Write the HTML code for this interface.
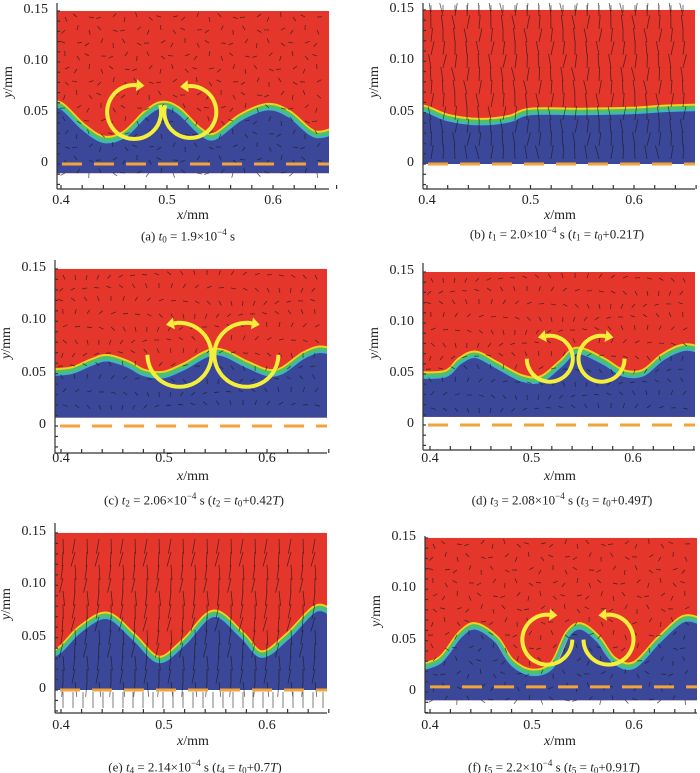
<!DOCTYPE html>
<html><head><meta charset="utf-8">
<style>
html,body{margin:0;padding:0;background:#fff;}
#wrap{position:relative;width:700px;height:773px;overflow:hidden;font-family:"Liberation Serif",serif;}
.lbl{position:absolute;white-space:nowrap;color:#222;}
.cap{font-size:13px;transform:translateX(-50%);}
.tk{font-size:14px;}
sub{font-size:9px;vertical-align:-2px;}
sup{font-size:9px;}
</style></head>
<body>
<div id="wrap">
<svg id="svg" width="700" height="773" xmlns="http://www.w3.org/2000/svg"></svg>
<div id="labels"></div>
</div>
<script>
// Interface profiles (x in mm, y in mm)
const ifaceXa=[0.385,0.40,0.42,0.44,0.46,0.48,0.495,0.51,0.53,0.545,0.57,0.595,0.615,0.64,0.665];
const ifaceYa=[0.058,0.056,0.036,0.023,0.028,0.048,0.057,0.052,0.032,0.026,0.045,0.055,0.048,0.028,0.035];
const ifaceXb=[0.385,0.40,0.42,0.45,0.48,0.50,0.55,0.60,0.63,0.665];
const ifaceYb=[0.055,0.052,0.044,0.040,0.043,0.050,0.050,0.051,0.053,0.054];
const ifaceXc=[0.385,0.41,0.43,0.445,0.465,0.48,0.50,0.52,0.55,0.58,0.60,0.615,0.635,0.65,0.665];
const ifaceYc=[0.050,0.052,0.060,0.064,0.058,0.050,0.048,0.056,0.070,0.058,0.050,0.052,0.066,0.072,0.070];
const ifaceXd=[0.385,0.415,0.43,0.445,0.465,0.49,0.51,0.53,0.545,0.57,0.59,0.61,0.63,0.65,0.665];
const ifaceYd=[0.048,0.049,0.062,0.068,0.058,0.045,0.044,0.060,0.072,0.062,0.050,0.050,0.066,0.075,0.073];
const ifaceXe=[0.385,0.40,0.42,0.445,0.47,0.495,0.52,0.548,0.575,0.595,0.62,0.648,0.665];
const ifaceYe=[0.030,0.038,0.058,0.070,0.050,0.028,0.045,0.072,0.052,0.033,0.050,0.077,0.070];
const ifaceXf=[0.385,0.41,0.43,0.445,0.465,0.48,0.50,0.52,0.535,0.548,0.565,0.58,0.60,0.625,0.648,0.665];
const ifaceYf=[0.022,0.030,0.055,0.063,0.050,0.028,0.018,0.025,0.055,0.063,0.050,0.030,0.025,0.050,0.070,0.068];
// vortex centres (mm), radius px, start/end angle deg
const vortexX=[[0.469,0.522],[],[0.515,0.58],[0.518,0.569],[],[0.515,0.575]];
const vortexY=[[0.051,0.051],[],[0.068,0.068],[0.065,0.065],[],[0.051,0.051]];
const vortexR=[[27,26],[],[32,32],[23,23],[],[25,25]];
const vortexA0=[[-15,195],[],[180,0],[180,0],[],[0,180]];
const vortexA1=[[275,-95],[],[-100,280],[-100,280],[],[275,-95]];
const xTicks=[0.4,0.5,0.6];
const xTickLabels=["0.4","0.5","0.6"];
const yTicks=[0,0.05,0.10,0.15];
const yTickLabels=["0","0.05","0.10","0.15"];

const ifaceX=[ifaceXa,ifaceXb,ifaceXc,ifaceXd,ifaceXe,ifaceXf];
const ifaceY=[ifaceYa,ifaceYb,ifaceYc,ifaceYd,ifaceYe,ifaceYf];

const P=[
 {id:'a',fx0:57,fx1:329,fy0:3,fy1:189,x04:61,xs:1060,y0:164,ys:1020,bot:-0.009,dash:0,mode:'s',xl:193,xly:208,tky:193,cap:188,capy:227,capH:'(a) <i>t</i><sub>0</sub> = 1.9×10<sup>−4</sup> s'},
 {id:'b',fx0:423,fx1:695,fy0:3,fy1:189,x04:427,xs:1035,y0:164,ys:1027,bot:0,dash:0,mode:'up',xl:560,xly:208,tky:193,cap:557,capy:225,capH:'(b) <i>t</i><sub>1</sub> = 2.0×10<sup>−4</sup> s (<i>t</i><sub>1</sub> = <i>t</i><sub>0</sub>+0.21<i>T</i>)'},
 {id:'c',fx0:55,fx1:327,fy0:260,fy1:453,x04:61,xs:1030,y0:426,ys:1047,bot:0.008,dash:0,mode:'s',xl:193,xly:469,tky:451,cap:194,capy:491,capH:'(c) <i>t</i><sub>2</sub> = 2.06×10<sup>−4</sup> s (<i>t</i><sub>2</sub> = <i>t</i><sub>0</sub>+0.42<i>T</i>)'},
 {id:'d',fx0:423,fx1:695,fy0:263,fy1:450,x04:430,xs:1015,y0:425,ys:1020,bot:0.008,dash:0,mode:'s',xl:560,xly:469,tky:451,cap:562,capy:491,capH:'(d) <i>t</i><sub>3</sub> = 2.08×10<sup>−4</sup> s (<i>t</i><sub>3</sub> = <i>t</i><sub>0</sub>+0.49<i>T</i>)'},
 {id:'e',fx0:55,fx1:327,fy0:523,fy1:713,x04:61,xs:1030,y0:690,ys:1047,bot:0,dash:0,mode:'down',xl:193,xly:734,tky:718,cap:195,capy:758,capH:'(e) <i>t</i><sub>4</sub> = 2.14×10<sup>−4</sup> s (<i>t</i><sub>4</sub> = <i>t</i><sub>0</sub>+0.7<i>T</i>)'},
 {id:'f',fx0:425,fx1:697,fy0:536,fy1:713,x04:430,xs:1020,y0:692,ys:1027,bot:-0.008,dash:0.005,mode:'s',xl:560,xly:734,tky:718,cap:554,capy:758,capH:'(f) <i>t</i><sub>5</sub> = 2.2×10<sup>−4</sup> s (<i>t</i><sub>5</sub> = <i>t</i><sub>0</sub>+0.91<i>T</i>)'}
];
const NS='http://www.w3.org/2000/svg';
const svg=document.getElementById('svg');
const labels=document.getElementById('labels');
function mk(tag,attrs,parent){const e=document.createElementNS(NS,tag);for(const k in attrs)e.setAttribute(k,attrs[k]);(parent||svg).appendChild(e);return e;}
function smooth(pts){let d='M'+pts[0][0]+','+pts[0][1];for(let i=0;i<pts.length-1;i++){const p0=pts[i-1]||pts[i],p1=pts[i],p2=pts[i+1],p3=pts[i+2]||p2;
 const c1=[p1[0]+(p2[0]-p0[0])/6,p1[1]+(p2[1]-p0[1])/6],c2=[p2[0]-(p3[0]-p1[0])/6,p2[1]-(p3[1]-p1[1])/6];
 d+=' C'+c1[0].toFixed(1)+','+c1[1].toFixed(1)+' '+c2[0].toFixed(1)+','+c2[1].toFixed(1)+' '+p2[0].toFixed(1)+','+p2[1].toFixed(1);}return d;}
function lbl(html,x,y,cls,name){const d=document.createElement('div');d.className='lbl '+cls;d.innerHTML=html;d.style.left=x+'px';d.style.top=y+'px';
 
 
 labels.appendChild(d);return d;}

P.forEach((p,pi)=>{
 const sx=v=>p.x04+(v-0.4)*p.xs, sy=v=>p.y0-v*p.ys;
 const g=mk('g',{});
 
 
 const cid='clip'+p.id;
 const cp=mk('clipPath',{id:cid},g);mk('rect',{x:p.fx0,y:p.fy0,width:p.fx1-p.fx0,height:p.fy1-p.fy0},cp);
 const inner=mk('g',{'clip-path':'url(#'+cid+')'},g);
 const red=mk('rect',{x:p.fx0,y:sy(0.15),width:p.fx1-p.fx0,height:sy(p.bot)-sy(0.15),fill:'#e5362c'},inner);
 
 const pts=ifaceX[pi].map((x,i)=>[sx(x),sy(ifaceY[pi][i])]);
 const dcurve=smooth(pts);
 const blue=mk('path',{d:dcurve+' L'+pts[pts.length-1][0]+','+sy(p.bot)+' L'+pts[0][0]+','+sy(p.bot)+' Z',fill:'#3b4799'},inner);
 
 mk('path',{d:dcurve,fill:'none',stroke:'#f2d21c',"stroke-width":6,transform:'translate(0,-2)'},inner);
 mk('path',{d:dcurve,fill:'none',stroke:'#4fc06a',"stroke-width":4,transform:'translate(0,-1)'},inner);
 const il=mk('path',{d:dcurve,fill:'none',stroke:'#3fb3c8',"stroke-width":2,transform:'translate(0,1.5)'},inner);
 
 // velocity arrows (texture)
 const qg=mk('g',{stroke:'#1a1a1a','stroke-width':0.8,opacity:0.7},inner);
 
 let k=0;
 for(let x=p.fx0+8;x<p.fx1;x+=12){for(let y=sy(0.15)+6;y<sy(p.bot);y+=13){k++;
  let ang,len;
  if(p.mode==='up'){ang=-90+((k*37)%30-15);len=14;}
  else if(p.mode==='down'){ang=95+((k*29)%24-12);len=15;}
  else{ang=(k*67)%360;len=5;}
  const r=ang*Math.PI/180;mk('line',{x1:x,y1:y,x2:(x+len*Math.cos(r)).toFixed(1),y2:(y+len*Math.sin(r)).toFixed(1)},qg);}}
 if(p.mode==='up'){for(let x=p.fx0+8;x<p.fx1;x+=12){mk('line',{x1:x,y1:sy(0.15)+2,x2:x,y2:p.fy0+2},qg);}}
 if(p.mode==='down'){for(let x=p.fx0+8;x<p.fx1;x+=10){mk('line',{x1:x,y1:sy(0)+2,x2:x,y2:p.fy1-5},qg);}}
 // dashed reference line
 const dl=mk('line',{x1:p.fx0+5,x2:p.fx1,y1:sy(p.dash),y2:sy(p.dash),stroke:'#f2a33a','stroke-width':3,'stroke-dasharray':'20 12'},inner);
 
 // vortices
 vortexX[pi].forEach((vx,j)=>{
  const cx=sx(vx),cy=sy(vortexY[pi][j]),R=vortexR[pi][j],a0=vortexA0[pi][j],a1=vortexA1[pi][j];
  let d='';const n=40;
  for(let i=0;i<=n;i++){const a=(a0+(a1-a0)*i/n)*Math.PI/180;d+=(i?' L':'M')+(cx+R*Math.cos(a)).toFixed(1)+','+(cy+R*Math.sin(a)).toFixed(1);}
  const vg=mk('g',{},inner);
  
  mk('path',{d:d,fill:'none',stroke:'#f4ef3a','stroke-width':4},vg);
  const ae=a1*Math.PI/180,ex=cx+R*Math.cos(ae),ey=cy+R*Math.sin(ae);
  const s=Math.sign(a1-a0);const tx=-Math.sin(ae)*s,ty=Math.cos(ae)*s;
  const nx=-ty,ny=tx;
  mk('polygon',{points:[[ex+tx*8,ey+ty*8],[ex+nx*6,ey+ny*6],[ex-nx*6,ey-ny*6]].map(q=>q[0].toFixed(1)+','+q[1].toFixed(1)).join(' '),fill:'#f4ef3a'},vg);
 });
 // axes
 const ax=mk('g',{stroke:'#333','stroke-width':1.2,fill:'none'},g);
 
 mk('line',{x1:p.fx0,y1:p.fy0,x2:p.fx0,y2:p.fy1},ax);
 mk('line',{x1:p.fx0,y1:p.fy1,x2:p.fx1,y2:p.fy1},ax);
 for(let v=0.4;v<0.665;v+=0.02){const x=sx(v);mk('line',{x1:x,y1:p.fy1,x2:x,y2:p.fy1-4},ax);}
 for(let v=-0.02;v<=0.151;v+=0.01){const y=sy(v);if(y>p.fy0&&y<p.fy1)mk('line',{x1:p.fx0,y1:y,x2:p.fx0+3,y2:y},ax);}
 xTicks.forEach((v,i)=>{const d=lbl(xTickLabels[i],sx(v),p.tky,'tk','x-tick-label');d.style.transform='translateX(-50%)';});
 yTicks.forEach((v,i)=>{const d=lbl(yTickLabels[i],p.fx0-9,sy(v)-9,'tk','y-tick-label');d.style.transform='translateX(-100%)';});
 const xl=lbl('<i>x</i>/mm',p.xl,p.xly,'tk','x-axis-title');xl.style.transform='translateX(-50%)';
 const yl=lbl('<i>y</i>/mm',p.fx0-64,(p.fy0+p.fy1)/2-22,'tk','y-axis-title');yl.style.transform='rotate(-90deg)';yl.style.transformOrigin='50% 50%';
 lbl(p.capH,p.cap,p.capy,'cap','caption-'+p.id);
});
</script>
</body></html>
